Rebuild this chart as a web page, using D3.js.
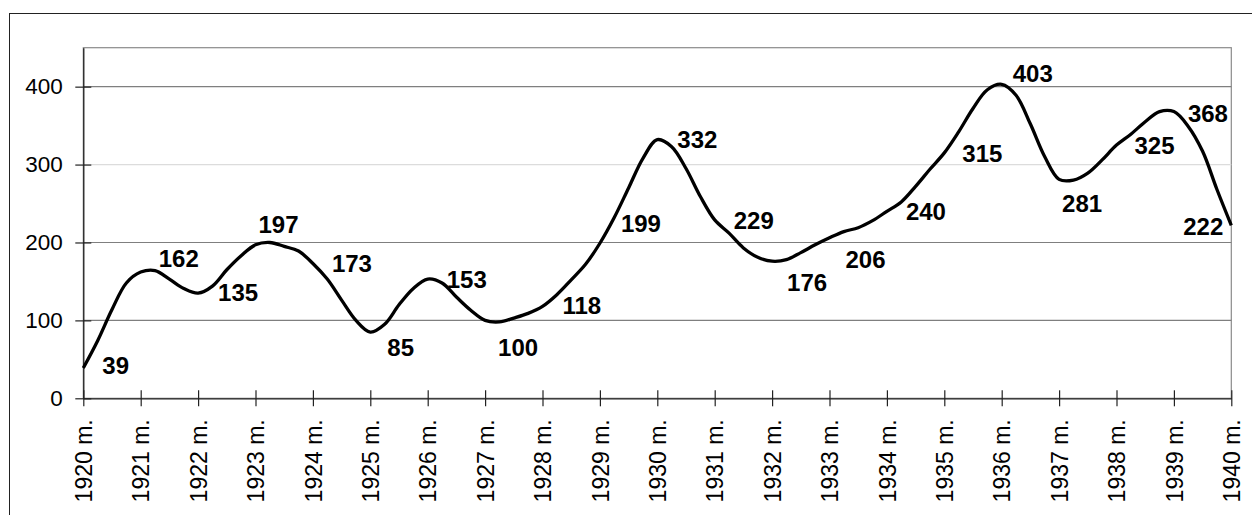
<!DOCTYPE html>
<html>
<head>
<meta charset="utf-8">
<script src="https://cdn.jsdelivr.net/npm/d3@7"></script>
<style>
  body { margin: 0; background: #fff; }
  svg { display: block; font-family: Arial, "Liberation Sans", sans-serif; }
</style>
</head>
<body>
<svg width="1252" height="515"></svg>
<script>
// quarterly readings, 1920 Q1 .. 1940 Q1
const startYear = 1920;
const quarterValues = [
  39, 74, 114, 148,
  162, 164, 153, 141,
  135, 144, 165, 183,
  197, 200, 195, 189,
  173, 153, 126, 100,
  85, 95, 120, 141,
  153, 148, 130, 113,
  100, 98, 103, 109,
  118, 133, 152, 172,
  199, 232, 270, 308,
  332, 323, 295, 259,
  229, 212, 193, 181,
  176, 178, 187, 197,
  206, 214, 219, 228,
  240, 252, 272, 294,
  315, 342, 372, 396,
  403, 389, 352, 310,
  281, 280, 289, 306,
  325, 339, 355, 368,
  368, 349, 317, 268,
  222
];

const labelYears = d3.range(1920, 1941);
const labelValues = [39, 162, 135, 197, 173, 85, 153, 100, 118, 199, 332,
  229, 176, 206, 240, 315, 403, 281, 325, 368, 222];
const yTicks = [0, 100, 200, 300, 400];

// label placement relative to its point (dx, dy, anchor)
const labelOffsets = [
  [19, -3], [18, -14], [20, -1], [3, -20], [19, 0], [17, 15], [19, 0],
  [13, 27], [20, -1], [21, -20], [20, 0], [19, 0], [15, 21], [16, 22],
  [19, 0], [18, 0], [11, -11], [3, 24], [18, 0], [14, 2], [-8, 1, 'end']
];

const svg = d3.select('svg');
const plot = { left: 83.3, right: 1231.3, top: 47.7, bottom: 398.3 };

const x = d3.scaleLinear().domain([1920, 1940]).range([plot.left, plot.right]);
const y = d3.scaleLinear().domain([0, 450]).range([plot.bottom, plot.top]);

// outer frame
svg.append('rect')
  .attr('x', 9.5).attr('y', 13.5)
  .attr('width', 1400).attr('height', 700)
  .attr('fill', 'none').attr('stroke', '#222').attr('stroke-width', 1);

// plot area border
svg.append('rect')
  .attr('x', plot.left).attr('y', plot.top)
  .attr('width', plot.right - plot.left).attr('height', plot.bottom - plot.top)
  .attr('fill', 'none').attr('stroke', '#8a8a8a').attr('stroke-width', 1.2);

// gridlines
svg.append('g').selectAll('line')
  .data(yTicks.filter(d => d > 0))
  .join('line')
  .attr('x1', plot.left).attr('x2', plot.right)
  .attr('y1', d => y(d)).attr('y2', d => y(d))
  .attr('stroke', d => d === 300 ? '#dcdcdc' : '#7f7f7f')
  .attr('stroke-width', 1.2);

// y axis
const yAxis = svg.append('g')
  .attr('transform', `translate(${plot.left},0)`)
  .call(d3.axisLeft(y).tickValues(yTicks).tickSize(8).tickSizeOuter(0).tickPadding(12.5));
yAxis.select('.domain').attr('stroke', '#222').attr('stroke-width', 1.3);
yAxis.selectAll('.tick line').attr('x1', 8).attr('stroke', '#222').attr('stroke-width', 1.2);
yAxis.selectAll('.tick text')
  .attr('fill', '#000').style('font-size', '22.5px');

// x axis
const xAxis = svg.append('g')
  .attr('transform', `translate(0,${plot.bottom})`)
  .call(d3.axisBottom(x).tickValues(labelYears).tickSize(8).tickSizeOuter(0)
    .tickFormat(d => d + ' m.'));
xAxis.select('.domain').attr('stroke', '#222').attr('stroke-width', 1.3);
xAxis.selectAll('.tick line').attr('y1', -8).attr('stroke', '#222').attr('stroke-width', 1.2);
xAxis.selectAll('.tick text')
  .attr('transform', 'rotate(-90)')
  .attr('x', -21).attr('y', 0).attr('dy', '0.36em')
  .style('text-anchor', 'end')
  .attr('fill', '#000').style('font-size', '23px');

// line
const line = d3.line()
  .x((d, i) => x(startYear + i / 4))
  .y(d => y(d))
  .curve(d3.curveCatmullRom.alpha(0.5));

svg.append('path')
  .datum(quarterValues)
  .attr('fill', 'none')
  .attr('stroke', '#000')
  .attr('stroke-width', 3.3)
  .attr('stroke-linejoin', 'round')
  .attr('d', line);

// data labels
svg.append('g').selectAll('text')
  .data(labelValues)
  .join('text')
  .attr('x', (d, i) => x(labelYears[i]) + labelOffsets[i][0])
  .attr('y', (d, i) => y(d) + labelOffsets[i][1])
  .attr('dy', '0.36em')
  .attr('text-anchor', (d, i) => labelOffsets[i][2] || 'start')
  .style('font-size', '24px')
  .style('font-weight', 'bold')
  .attr('fill', '#000')
  .text(d => d);
</script>
</body>
</html>
